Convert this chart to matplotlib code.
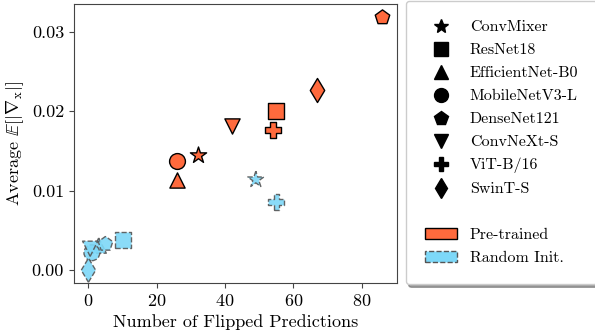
import matplotlib
matplotlib.use("Agg")
import matplotlib.pyplot as plt
from matplotlib.lines import Line2D
from matplotlib.patches import Patch

plt.rcParams['font.family'] = 'serif'
plt.rcParams['font.serif'] = ['cmr10', 'DejaVu Serif']
plt.rcParams['mathtext.fontset'] = 'cm'
plt.rcParams['axes.formatter.use_mathtext'] = True

models = ['ConvMixer', 'ResNet18', 'EfficientNet-B0', 'MobileNetV3-L',
          'DenseNet121', 'ConvNeXt-S', 'ViT-B/16', 'SwinT-S']
markers = ['*', 's', '^', 'o', 'p', 'v', 'P', 'd']

# pre-trained
pre_flips = [32, 55, 26, 26, 86, 42, 54, 67]
pre_grad = [0.0145, 0.0200, 0.0113, 0.0138, 0.0319, 0.0181, 0.0177, 0.0227]

# random init
rand_flips = [49, 10, 3, 1, 5, 0.5, 55, 0]
rand_grad = [0.0114, 0.0038, 0.0031, 0.0022, 0.0033, 0.0027, 0.0086, 0.0000]

orange = '#ff6a3d'
blue = '#7dd8f8'

fig = plt.figure(figsize=(5.95, 3.34), dpi=100)
ax = fig.add_axes([0.124, 0.153, 0.543, 0.835])

sizes = {'*': 150, 's': 130, '^': 120, 'o': 130, 'p': 120, 'v': 120, 'P': 130, 'd': 150}

for i, m in enumerate(markers):
    ax.scatter(rand_flips[i], rand_grad[i], marker=m, s=sizes[m], color=blue,
               edgecolors='#555555', linewidths=1.0, linestyle='--', alpha=0.9, zorder=2)
for i, m in enumerate(markers):
    ax.scatter(pre_flips[i], pre_grad[i], marker=m, s=sizes[m], color=orange,
               edgecolors='black', linewidths=1.0, zorder=3)

ax.set_xticks([0, 20, 40, 60, 80])
ax.set_yticks([0.0, 0.01, 0.02, 0.03])
ax.set_yticklabels(['0.00', '0.01', '0.02', '0.03'])
ax.tick_params(labelsize=13, color='#444444')
ax.set_xlabel('Number of Flipped Predictions', fontsize=13)
ax.set_ylabel(r'Average $\mathbb{E}[|\nabla_{\mathrm{x}}|]$', fontsize=13)
for sp in ax.spines.values():
    sp.set_color('#444444')

handles = [Line2D([], [], marker=m, color='black', linestyle='none', markersize=10)
           for m in markers]
handles.append(Line2D([], [], linestyle='none'))
handles.append(Patch(facecolor=orange, edgecolor='black'))
handles.append(Patch(facecolor=blue, edgecolor='#555555', linestyle='--'))
labels = models + [''] + ['Pre-trained', 'Random Init.']

fig.legend(handles, labels, loc='upper left', bbox_to_anchor=(0.682, 0.997),
           borderaxespad=0, fontsize=11.5, frameon=True, fancybox=True, shadow=True,
           borderpad=1.2, handlelength=2.0, labelspacing=0.55)

fig.savefig('out.png', dpi=100)
